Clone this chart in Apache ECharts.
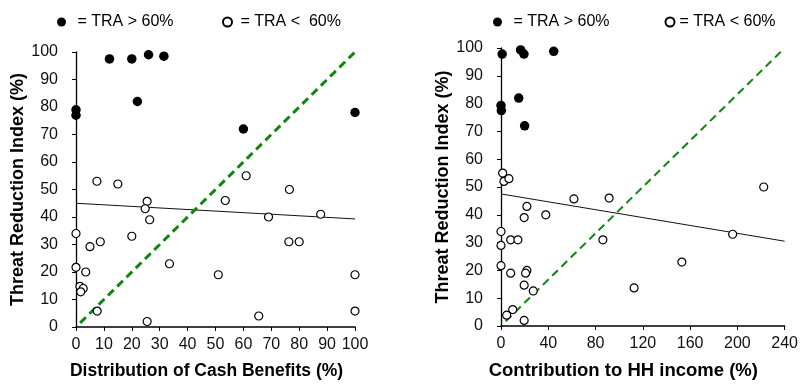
<!DOCTYPE html>
<html>
<head>
<meta charset="utf-8">
<script src="https://cdn.jsdelivr.net/npm/echarts@6/dist/echarts.min.js"></script>
<style>html,body{margin:0;padding:0;background:#fff}#c{width:801px;height:385px}</style>
</head>
<body>
<div id="c"></div>
<script>
// ---- Left panel: Distribution of Cash Benefits (%) ----
const leftHighX = [0, 0, 12, 20, 26, 31.5, 22, 60, 100];
const leftHighY = [79, 77, 97.5, 97.5, 99, 98.5, 82, 72, 78];
const leftLowX = [7.5, 15, 25.5, 24.8, 26.4, 53.5, 0, 20, 8.7, 5, 0, 3.5, 33.5, 51, 1.4, 2.6, 1.7, 7.6, 25.5, 61, 76.5, 69, 87.7, 76.3, 80, 100, 100, 65.5];
const leftLowY = [53, 52, 45.7, 43, 39, 46, 34, 33, 31, 29.2, 21.7, 20, 23, 19, 14.8, 14, 12.8, 5.8, 2, 55, 50, 40, 41, 31, 31, 19, 5.8, 4];
const leftTrendX = [0, 100];
const leftTrendY = [45, 39.3];
const leftParityX = [1.5, 100];
const leftParityY = [1.5, 100];

// ---- Right panel: Contribution to HH income (%) ----
const rightHighX = [1, 16.6, 19.4, 44.6, 15, 0, 0.3, 20];
const rightHighY = [97.8, 99.3, 97.8, 98.8, 82, 79.3, 77.5, 72];
const rightLowX = [1.4, 2.5, 6.7, 61.7, 91.5, 21.9, 19.6, 37.9, 0, 8.2, 14.3, 86.2, 0, 0, 8.2, 21.9, 20.8, 19.6, 27.3, 9.9, 4.8, 19.6, 112.6, 222.3, 196, 153];
const rightLowY = [55, 52, 53, 45.7, 46, 43, 39, 40, 34, 31, 31, 31, 29, 21.7, 19, 20, 19, 14.7, 12.6, 5.9, 3.9, 2, 13.7, 50, 33, 23];
const rightTrendX = [0, 240];
const rightTrendY = [47.5, 30.5];
const rightParityX = [4, 237];
const rightParityY = [1.7, 98.75];

// ---- Axis ticks / labels ----
const leftXTicks = [0, 100, 10];
const rightXTicks = [0, 240, 40];
const yTicks = [0, 100, 10];
const leftXName = 'Distribution of Cash Benefits (%)';
const rightXName = 'Contribution to HH income (%)';
const yName = 'Threat Reduction Index (%)';
const legendLabels = {
  LH: '= TRA > 60%', LL: '= TRA <  60%',
  RH: '= TRA > 60%', RL: '= TRA < 60%'
};

const FONT = "'Liberation Sans', Arial, sans-serif";
const zip = (xs, ys) => xs.map((x, i) => [x, ys[i]]);

function xAxis(idx, t, name, nameShift, fs) {
  return {
    type: 'value', gridIndex: idx, min: t[0], max: t[1], interval: t[2],
    name: name, nameLocation: 'middle', nameGap: 35,
    nameTextStyle: { fontFamily: FONT, fontSize: fs, fontWeight: 'bold', color: '#000', padding: [0, nameShift, 0, 0] },
    axisLine: { show: true, lineStyle: { color: '#000', width: 1.6 } },
    axisTick: { show: true, length: 4, lineStyle: { color: '#000', width: 1 } },
    axisLabel: { fontFamily: FONT, fontSize: 16, color: '#111', margin: 10 },
    splitLine: { show: false }
  };
}
function yAxis(idx, gap) {
  return {
    type: 'value', gridIndex: idx, min: yTicks[0], max: yTicks[1], interval: yTicks[2],
    name: yName, nameLocation: 'middle', nameGap: gap,
    nameTextStyle: { fontFamily: FONT, fontSize: 18, fontWeight: 'bold', color: '#000' },
    axisLine: { show: true, lineStyle: { color: '#000', width: 1.3 } },
    axisTick: { show: true, length: 4, lineStyle: { color: '#000', width: 1 } },
    axisLabel: { fontFamily: FONT, fontSize: 16, color: '#111', margin: 18 },
    splitLine: { show: false }
  };
}
function legend(name, left, w) {
  return {
    data: [name], left: left, top: 14, itemWidth: w, itemHeight: 9, padding: 0,
    selectedMode: false,
    formatter: n => legendLabels[n],
    textStyle: { fontFamily: FONT, fontSize: 16, color: '#000' }
  };
}
const high = (id, idx, xs, ys) => ({
  name: id, type: 'scatter', xAxisIndex: idx, yAxisIndex: idx, data: zip(xs, ys),
  symbol: 'circle', symbolSize: 9.5, itemStyle: { color: '#000', opacity: 1 }, z: 5
});
const low = (id, idx, xs, ys) => ({
  name: id, type: 'scatter', xAxisIndex: idx, yAxisIndex: idx, data: zip(xs, ys),
  symbol: 'circle', symbolSize: 8, itemStyle: { color: '#fff', borderColor: '#000', borderWidth: 1.2, opacity: 1 }, z: 4
});
const trend = (idx, xs, ys) => ({
  type: 'line', xAxisIndex: idx, yAxisIndex: idx, data: zip(xs, ys), symbol: 'none',
  lineStyle: { color: '#111', width: 1 }, z: 2, silent: true
});
const parity = (idx, xs, ys, w) => ({
  type: 'line', xAxisIndex: idx, yAxisIndex: idx, data: zip(xs, ys), symbol: 'none',
  lineStyle: { color: '#0a8a0a', width: w, type: [8, 5] }, z: 3, silent: true
});

const chart = echarts.init(document.getElementById('c'), null, { renderer: 'canvas' });
chart.setOption({
  animation: false,
  backgroundColor: '#fff',
  grid: [
    { left: 76, top: 52, width: 279, height: 281 },
    { left: 501, top: 48, width: 285, height: 285 }
  ],
  xAxis: [xAxis(0, leftXTicks, leftXName, 18, 17.5), xAxis(1, rightXTicks, rightXName, 39, 18.5)],
  yAxis: [yAxis(0, 38), yAxis(1, 43)],
  legend: [legend('LH', 57, 22), legend('LL', 222, 16), legend('RH', 493, 22), legend('RL', 664.5, 9)],
  series: [
    parity(0, leftParityX, leftParityY, 3),
    trend(0, leftTrendX, leftTrendY),
    high('LH', 0, leftHighX, leftHighY),
    low('LL', 0, leftLowX, leftLowY),
    parity(1, rightParityX, rightParityY, 2),
    trend(1, rightTrendX, rightTrendY),
    high('RH', 1, rightHighX, rightHighY),
    low('RL', 1, rightLowX, rightLowY)
  ]
});
</script>
</body>
</html>
